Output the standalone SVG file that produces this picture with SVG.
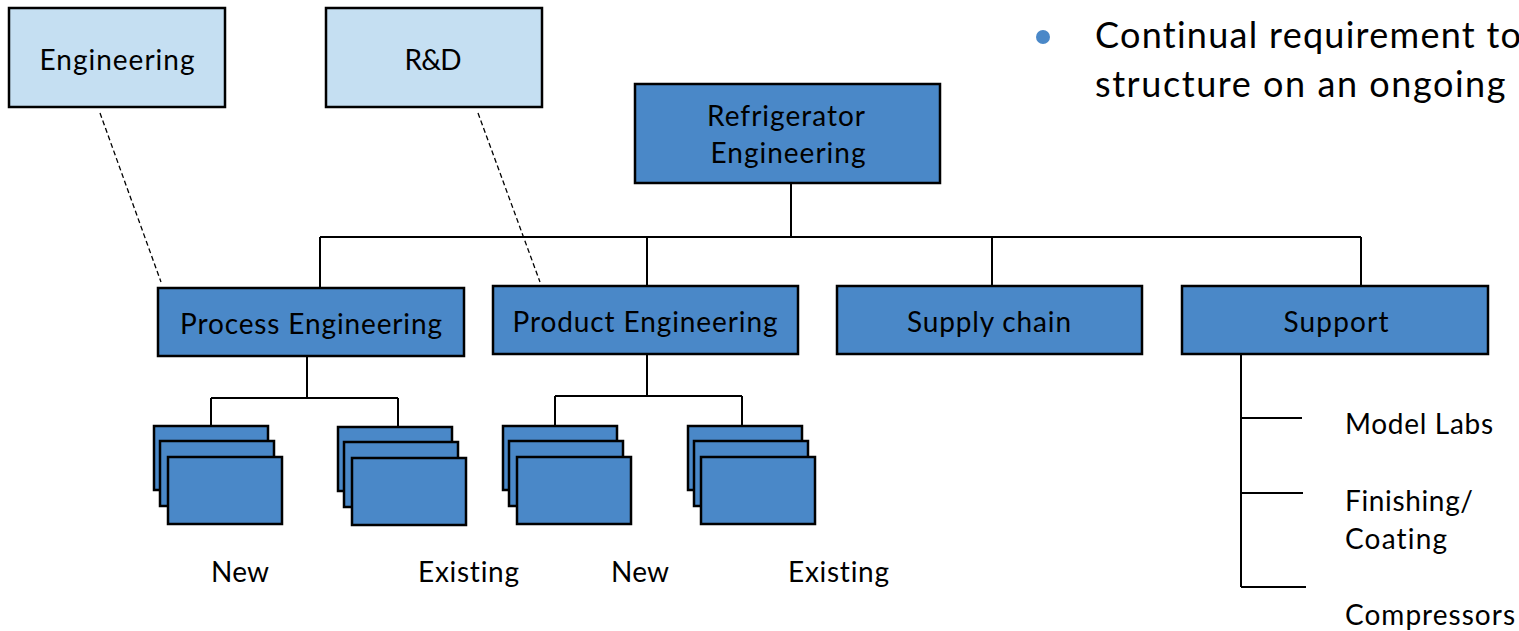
<svg xmlns="http://www.w3.org/2000/svg" width="1519" height="631" viewBox="0 0 1519 631">
  <style>
    .box { fill: #4a88c8; stroke: #000; stroke-width: 2.5; }
    .lite { fill: #c5dff2; stroke: #000; stroke-width: 2.5; }
    text { font-variant-ligatures: none; }
    .lbl { font-family: Lato, "Liberation Sans", sans-serif; font-size: 28px; fill: #000; }
    .mid { text-anchor: middle; }
    .big { font-family: Lato, "Liberation Sans", sans-serif; font-size: 36px; fill: #000; }
    .conn { stroke: #000; stroke-width: 2; fill: none; }
    .dash { stroke: #000; stroke-width: 1.3; stroke-dasharray: 5 3; fill: none; }
  </style>
  <rect width="1519" height="631" fill="#fff"/>

  <!-- connectors -->
  <g id="connectors">
    <path class="conn" d="M791 183 V237 M320 237 H1361 M320 237 V288 M647 237 V286 M992 237 V286 M1361 237 V286"/>
    <path class="conn" d="M307 357 V398 M211 398 H398 M211 398 V426 M398 398 V427"/>
    <path class="conn" d="M647 355 V396 M555 396 H742 M555 396 V426 M742 396 V426"/>
    <path class="conn" d="M1241 355 V587 M1241 418 H1302 M1241 493 H1303 M1241 587 H1306"/>
    <path class="dash" d="M100 113 L161 282 M478 113 L540 282"/>
  </g>

  <!-- dotted-line parents -->
  <g id="engineering">
    <rect class="lite" x="9" y="8" width="216" height="99"/>
    <text class="lbl mid" x="117" y="70" textLength="155">Engineering</text>
  </g>
  <g id="rnd">
    <rect class="lite" x="326" y="8" width="216" height="99"/>
    <text class="lbl mid" x="433" y="70" textLength="57">R&amp;D</text>
  </g>

  <!-- top node -->
  <g id="refrigerator-engineering">
    <rect class="box" x="635" y="84" width="305" height="99"/>
    <text class="lbl mid" x="786" y="126" textLength="158">Refrigerator</text>
    <text class="lbl mid" x="788" y="163" textLength="155">Engineering</text>
  </g>

  <!-- second level -->
  <g id="process-engineering">
    <rect class="box" x="158" y="288" width="306" height="68"/>
    <text class="lbl mid" x="311" y="334" textLength="262">Process Engineering</text>
  </g>
  <g id="product-engineering">
    <rect class="box" x="493" y="286" width="305" height="68"/>
    <text class="lbl mid" x="645" y="332" textLength="265">Product Engineering</text>
  </g>
  <g id="supply-chain">
    <rect class="box" x="837" y="286" width="305" height="68"/>
    <text class="lbl mid" x="989" y="332" textLength="164">Supply chain</text>
  </g>
  <g id="support">
    <rect class="box" x="1182" y="286" width="306" height="68"/>
    <text class="lbl mid" x="1336" y="332" textLength="105">Support</text>
  </g>

  <!-- stacked project boxes -->
  <g id="process-new">
    <rect class="box" x="154" y="426" width="114" height="64"/>
    <rect class="box" x="160" y="441" width="114" height="65"/>
    <rect class="box" x="168" y="457" width="114" height="67"/>
  </g>
  <g id="process-existing">
    <rect class="box" x="338" y="427" width="114" height="64"/>
    <rect class="box" x="344" y="442" width="114" height="65"/>
    <rect class="box" x="352" y="458" width="114" height="67"/>
  </g>
  <g id="product-new">
    <rect class="box" x="503" y="426" width="114" height="64"/>
    <rect class="box" x="509" y="441" width="114" height="65"/>
    <rect class="box" x="517" y="457" width="114" height="67"/>
  </g>
  <g id="product-existing">
    <rect class="box" x="688" y="426" width="114" height="64"/>
    <rect class="box" x="694" y="441" width="114" height="65"/>
    <rect class="box" x="701" y="457" width="114" height="67"/>
  </g>

  <g id="stack-labels">
    <text class="lbl" x="211" y="582" textLength="58">New</text>
    <text class="lbl" x="418" y="582" textLength="101">Existing</text>
    <text class="lbl" x="611" y="582" textLength="58">New</text>
    <text class="lbl" x="788" y="582" textLength="101">Existing</text>
  </g>

  <!-- support functions -->
  <g id="support-functions">
    <text class="lbl" x="1345" y="434" textLength="148">Model Labs</text>
    <text class="lbl" x="1345" y="511" textLength="128">Finishing/</text>
    <text class="lbl" x="1345" y="549" textLength="102">Coating</text>
    <text class="lbl" x="1345" y="625" textLength="170">Compressors</text>
  </g>

  <!-- bullet note -->
  <g id="note">
    <circle cx="1043" cy="37" r="7" fill="#4a88c8"/>
    <text class="big" x="1095" y="48" textLength="426">Continual requirement to</text>
    <text class="big" x="1095" y="97" textLength="443">structure on an ongoing b</text>
  </g>
</svg>
